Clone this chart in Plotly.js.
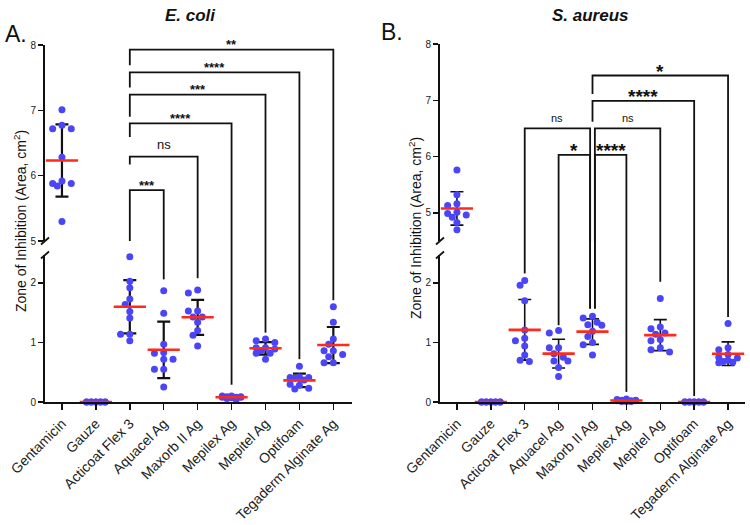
<!DOCTYPE html>
<html><head><meta charset="utf-8">
<script src="https://cdn.plot.ly/plotly-3.0.1.min.js"></script>
<style>html,body{margin:0;padding:0;background:#fff}#chart{width:750px;height:525px}</style>
</head><body><div id="chart"></div>
<script>
// ---------------- DATA ----------------
const categories = ['Gentamicin','Gauze','Acticoat Flex 3','Aquacel Ag','Maxorb II Ag','Mepilex Ag','Mepitel Ag','Optifoam','Tegaderm Alginate Ag'];

// A. E. coli — zone of inhibition (cm²)
const ecoliGentamicin = [7.01,6.77,6.72,6.72,6.28,5.92,5.88,5.88,5.84,5.30];
const ecoliGauze      = [0,0,0,0,0,0,0,0,0,0];
const ecoliActicoat   = [2.44,2.03,1.92,1.73,1.64,1.52,1.41,1.14,1.14,1.03];
const ecoliAquacel    = [1.87,1.49,0.97,0.83,0.82,0.72,0.72,0.55,0.55,0.25];
const ecoliMaxorb     = [1.88,1.83,1.53,1.53,1.43,1.43,1.34,1.20,1.12,0.94];
const ecoliMepilex    = [0.10,0.10,0.09,0.09,0.08,0.08,0.08,0.07,0.06,0.04];
const ecoliMepitel    = [1.06,1.03,1.00,0.91,0.91,0.89,0.86,0.82,0.82,0.72];
const ecoliOptifoam   = [0.60,0.42,0.41,0.41,0.40,0.37,0.30,0.28,0.23,0.22];
const ecoliTegaderm   = [1.60,1.34,1.06,0.97,0.86,0.86,0.80,0.76,0.66,0.66];

// B. S. aureus — zone of inhibition (cm²)
const saureusGentamicin = [5.76,5.32,5.16,5.13,5.01,4.99,4.96,4.92,4.83,4.70];
const saureusGauze      = [0,0,0,0,0,0,0,0,0,0];
const saureusActicoat   = [2.04,1.96,1.70,1.21,1.07,1.03,0.94,0.79,0.70,0.68];
const saureusAquacel    = [1.20,1.16,0.91,0.91,0.81,0.75,0.69,0.69,0.58,0.43];
const saureusMaxorb     = [1.44,1.41,1.34,1.30,1.29,1.19,1.10,1.00,0.96,0.79];
const saureusMepilex    = [0.05,0.04,0.03,0.03,0.02,0.02,0.02,0.01,0.01,0.01];
const saureusMepitel    = [1.74,1.26,1.23,1.16,1.14,1.05,1.03,0.91,0.88,0.84];
const saureusOptifoam   = [0,0,0,0,0,0,0,0,0,0];
const saureusTegaderm   = [1.32,0.91,0.88,0.80,0.75,0.74,0.70,0.68,0.67,0.66];

// Significance brackets (category index, bracket height, leg end values, label)
const ecoliSigFrom    = [2,2,2,2,2,2];
const ecoliSigTo      = [3,4,5,6,7,8];
const ecoliSigHeight  = [5.78,6.29,6.80,7.24,7.58,7.93];
const ecoliSigFromEnd = [5.00,6.17,6.59,6.90,7.35,7.69];
const ecoliSigToEnd   = [2.06,2.08,0.29,1.165,0.72,1.71];
const ecoliSigLabel   = ['***','ns','****','***','****','**'];

const saureusSigFrom    = [2,3,4.07,4.07,4,4];
const saureusSigTo      = [3.93,3.93,5,6,7,8];
const saureusSigHeight  = [6.50,6.03,6.03,6.50,6.99,7.44];
const saureusSigFromEnd = [2.16,1.29,1.57,1.57,6.62,7.11];
const saureusSigToEnd   = [1.57,1.57,0.17,2.02,0.10,1.43];
const saureusSigLabel   = ['ns','*','****','ns','****','*'];

// ---------------- LAYOUT GEOMETRY ----------------
const W = 750, H = 525;
const FONT = 'Arial, "Liberation Sans", sans-serif';
const DOT = '#4b45fa', MEAN = '#ff2a1a', INK = '#111111';
const Y_DOM_LO = [1-402/H, 1-255/H];

const ecoliGroups = [ecoliGentamicin,ecoliGauze,ecoliActicoat,ecoliAquacel,ecoliMaxorb,ecoliMepilex,ecoliMepitel,ecoliOptifoam,ecoliTegaderm];
const saureusGroups = [saureusGentamicin,saureusGauze,saureusActicoat,saureusAquacel,saureusMaxorb,saureusMepilex,saureusMepitel,saureusOptifoam,saureusTegaderm];

const panels = [
  {groups: ecoliGroups, x:'x', xk:'xaxis', ylo:'y', ylok:'yaxis', yhi:'y2', yhik:'yaxis2',
   xdom:[45/W,352/W], xrange:[-0.5,8.55], lorange:[0,2.47], hirange:[5,8], hidom:[1-241/H,1-45/H],
   sig:{from:ecoliSigFrom,to:ecoliSigTo,h:ecoliSigHeight,fe:ecoliSigFromEnd,te:ecoliSigToEnd,lab:ecoliSigLabel},
   barT:2.2, starSize:13, nsSize:13, starShift:-4.5, nsShift:3},
  {groups: saureusGroups, x:'x2', xk:'xaxis2', ylo:'y3', ylok:'yaxis3', yhi:'y4', yhik:'yaxis4',
   xdom:[440/W,745/W], xrange:[-0.5,8.5], lorange:[0,2.47], hirange:[4.5,8], hidom:[1-241/H,1-44/H],
   sig:{from:saureusSigFrom,to:saureusSigTo,h:saureusSigHeight,fe:saureusSigFromEnd,te:saureusSigToEnd,lab:saureusSigLabel},
   barT:1.6, starSize:19, nsSize:11, starShift:-8, nsShift:2.3}
];

function mean(a){return a.reduce((s,v)=>s+v,0)/a.length;}
function sd(a){const m=mean(a);return Math.sqrt(a.reduce((s,v)=>s+(v-m)*(v-m),0)/(a.length-1));}

// simple beeswarm offsets (in category units)
function swarm(vals, pyu, pxu){
  const d=6.5, step=4.65;
  const cands=[0,-step,step,-2*step,2*step];
  const order=vals.map((v,i)=>i).sort((a,b)=>vals[b]-vals[a]);
  const off=new Array(vals.length).fill(0);
  const placed=[];
  for(const i of order){
    const yp=vals[i]*pyu;
    let best=0,bestOv=Infinity;
    for(const c of cands){
      let ov=0;
      for(const p of placed){const dist=Math.hypot(c-p[0],yp-p[1]); if(dist<d) ov+=d-dist;}
      if(ov<bestOv-1e-9){bestOv=ov;best=c;}
      if(ov===0) break;
    }
    off[i]=best/pxu; placed.push([best,yp]);
  }
  return off;
}

const traces=[], shapes=[], annotations=[];
const layout = {
  width:W, height:H, margin:{l:0,r:0,t:0,b:0}, paper_bgcolor:'#fff', plot_bgcolor:'rgba(0,0,0,0)',
  showlegend:false, hovermode:false, font:{family:FONT, color:INK}
};

panels.forEach(p=>{
  const xpx = (p.xdom[1]-p.xdom[0])*W/(p.xrange[1]-p.xrange[0]);
  const lopx = (Y_DOM_LO[1]-Y_DOM_LO[0])*H/(p.lorange[1]-p.lorange[0]);
  const hipx = (p.hidom[1]-p.hidom[0])*H/(p.hirange[1]-p.hirange[0]);
  const yCommon = {showline:true, linewidth:2, linecolor:INK, ticks:'outside', ticklen:5, tickwidth:1.5, tickcolor:INK,
    showgrid:false, zeroline:false, tickfont:{size:10, family:FONT, color:'#222'}, anchor:p.x, fixedrange:true};
  layout[p.xk] = {domain:p.xdom, range:p.xrange, anchor:p.ylo, tickmode:'array', tickvals:categories.map((c,i)=>i),
    ticktext:categories, tickangle:-45, ticks:'outside', ticklen:6, tickwidth:1.5, tickcolor:INK,
    showline:true, linewidth:2, linecolor:INK, showgrid:false, zeroline:false, tickfont:{size:14, family:FONT, color:'#222'}, fixedrange:true};
  layout[p.ylok] = Object.assign({}, yCommon, {domain:Y_DOM_LO, range:p.lorange, tickmode:'array', tickvals:[0,1,2]});
  layout[p.yhik] = Object.assign({}, yCommon, {domain:p.hidom, range:p.hirange, tickmode:'array', tickvals:[5,6,7,8]});

  p.groups.forEach((vals,i)=>{
    const m=mean(vals), s=sd(vals);
    const upper = m>=4;
    const ya = upper?p.yhi:p.ylo;
    const off = swarm(vals, upper?hipx:lopx, xpx);
    traces.push({x:[i], y:[m], xaxis:p.x, yaxis:ya, mode:'markers', cliponaxis:false,
      marker:{size:1,color:'rgba(0,0,0,0)'},
      error_y:{type:'data', array:[s], visible:s>0.03, color:INK, thickness:p.barT, width:6.5}});
    traces.push({x:vals.map((v,k)=>i+off[k]), y:vals, xaxis:p.x, yaxis:ya, mode:'markers', cliponaxis:false,
      marker:{size:7, color:DOT}});
    traces.push({x:[i], y:[m], xaxis:p.x, yaxis:ya, mode:'markers', cliponaxis:false,
      marker:{symbol:'line-ew', size:23, color:MEAN, line:{width:2.6, color:MEAN}}});
  });

  // significance brackets
  const ln={color:INK,width:1.8};
  const lowPieces=(x,end)=>{
    if(end>=p.hirange[0]-1e-6) return;
    shapes.push({type:'line', xref:p.x, yref:'paper', x0:x, x1:x, y0:p.hidom[0], y1:Y_DOM_LO[1], line:ln});
    shapes.push({type:'line', xref:p.x, yref:p.ylo, x0:x, x1:x, y0:p.lorange[1], y1:end, line:ln});
  };
  p.sig.from.forEach((f,k)=>{
    const t=p.sig.to[k], h=p.sig.h[k], fe=p.sig.fe[k], te=p.sig.te[k];
    const fTop=Math.max(fe,p.hirange[0]), tTop=Math.max(te,p.hirange[0]);
    shapes.push({type:'path', xref:p.x, yref:p.yhi, line:ln,
      path:`M${f},${fTop}L${f},${h}L${t},${h}L${t},${tTop}`});
    lowPieces(f,fe); lowPieces(t,te);
    const lab=p.sig.lab[k], isNs=lab==='ns';
    annotations.push({xref:p.x, yref:p.yhi, x:(f+t)/2, y:h, yanchor:'bottom', xanchor:'center', showarrow:false,
      text: isNs?lab:'<b>'+lab+'</b>', yshift: isNs?p.nsShift:p.starShift,
      font:{size:isNs?p.nsSize:p.starSize, family:FONT, color:INK}});
  });

  // axis break marks
  [p.hidom[0], Y_DOM_LO[1]].forEach(yv=>{
    shapes.push({type:'line', xref:'paper', yref:'paper', xsizemode:'pixel', ysizemode:'pixel',
      xanchor:p.xdom[0], yanchor:yv, x0:-4, x1:4, y0:-3.5, y1:3.5, line:{color:INK,width:1.8}});
  });
});

// titles and labels
const px=v=>v/W, py=v=>1-v/H;
annotations.push({xref:'paper',yref:'paper',x:px(190.5),y:py(15),xanchor:'center',yanchor:'middle',showarrow:false,
  text:'<b><i>E. coli</i></b>',font:{size:17,family:FONT,color:INK}});
annotations.push({xref:'paper',yref:'paper',x:px(590.5),y:py(15),xanchor:'center',yanchor:'middle',showarrow:false,
  text:'<b><i>S. aureus</i></b>',font:{size:17,family:FONT,color:INK}});
annotations.push({xref:'paper',yref:'paper',x:px(16),y:py(34),xanchor:'center',yanchor:'middle',showarrow:false,
  text:'A.',font:{size:23,family:FONT,color:INK}});
annotations.push({xref:'paper',yref:'paper',x:px(392),y:py(32),xanchor:'center',yanchor:'middle',showarrow:false,
  text:'B.',font:{size:23,family:FONT,color:INK}});
annotations.push({xref:'paper',yref:'paper',x:px(20),y:py(221),xanchor:'center',yanchor:'middle',showarrow:false,textangle:-90,
  text:'Zone of Inhibition (Area, cm<sup>2</sup>)',font:{size:14,family:FONT,color:INK}});
annotations.push({xref:'paper',yref:'paper',x:px(415),y:py(228),xanchor:'center',yanchor:'middle',showarrow:false,textangle:-90,
  text:'Zone of Inhibition (Area, cm<sup>2</sup>)',font:{size:14,family:FONT,color:INK}});

layout.shapes=shapes; layout.annotations=annotations;
Plotly.newPlot('chart', traces, layout, {staticPlot:true, displayModeBar:false});
</script>
</body></html>
